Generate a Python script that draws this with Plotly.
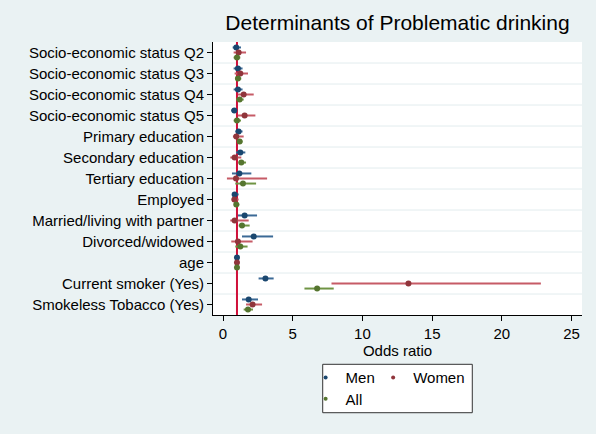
import plotly.graph_objects as go

categories = [
    "Socio-economic status Q2", "Socio-economic status Q3", "Socio-economic status Q4",
    "Socio-economic status Q5", "Primary education", "Secondary education",
    "Tertiary education", "Employed", "Married/living with partner",
    "Divorced/widowed", "age", "Current smoker (Yes)", "Smokeless Tobacco (Yes)",
]

men_or = [0.95, 1.07, 1.07, 0.81, 1.12, 1.24, 1.17, 0.83, 1.55, 2.20, 1.00, 3.04, 1.84]
men_lo = [0.69, 0.76, 0.76, 0.59, 0.88, 0.93, 0.64, 0.76, 1.07, 1.36, 0.98, 2.55, 1.36]
men_hi = [1.29, 1.40, 1.40, 1.00, 1.40, 1.60, 2.03, 1.12, 2.44, 3.59, 1.02, 3.63, 2.51]

women_or = [1.12, 1.24, 1.48, 1.55, 0.95, 0.83, 0.93, 0.81, 0.83, 1.07, 1.00, 13.3, 2.12]
women_lo = [0.76, 0.83, 1.07, 1.07, 0.71, 0.52, 0.28, 0.64, 0.52, 0.59, 0.98, 7.78, 1.65]
women_hi = [1.65, 1.79, 2.20, 2.32, 1.48, 1.31, 3.16, 1.12, 1.84, 2.12, 1.02, 22.8, 2.80]

all_or = [1.00, 1.07, 1.19, 1.00, 1.19, 1.31, 1.43, 0.95, 1.36, 1.24, 1.00, 6.75, 1.79]
all_lo = [0.76, 0.88, 0.95, 0.76, 1.00, 1.12, 0.88, 0.83, 1.12, 0.88, 0.99, 5.84, 1.48]
all_hi = [1.24, 1.31, 1.48, 1.29, 1.40, 1.65, 2.37, 1.17, 1.91, 1.76, 1.01, 7.94, 2.15]

x_ticks = [0, 5, 10, 15, 20, 25]
null_value = 1

FONT = "Liberation Sans, Arial, Helvetica, sans-serif"
BG = "#EAF2F3"
GRID = "#e2ecee"

series = [
    ("Men", men_or, men_lo, men_hi, -0.24, "#1a476f", "#3c6a96", "legend"),
    ("Women", women_or, women_lo, women_hi, 0.0, "#90353b", "#c65b66", "legend2"),
    ("All", all_or, all_lo, all_hi, 0.24, "#55752f", "#6f9444", "legend3"),
]

pos = list(range(1, len(categories) + 1))

fig = go.Figure()
for name, orv, lo, hi, off, mcol, ecol, leg in series:
    fig.add_trace(go.Scatter(
        x=orv, y=[p + off for p in pos], mode="markers", name=name,
        marker=dict(color=mcol, size=6, symbol="circle"),
        error_x=dict(type="data", symmetric=False,
                     array=[h - o for h, o in zip(hi, orv)],
                     arrayminus=[o - l for o, l in zip(orv, lo)],
                     color=ecol, thickness=2, width=0),
        showlegend=False,
    ))
for name, orv, lo, hi, off, mcol, ecol, leg in series:
    fig.add_trace(go.Scatter(
        x=[None], y=[None], mode="markers", name=name,
        marker=dict(color=mcol, size=4), legend=leg, showlegend=True,
    ))

# horizontal separators between categories
for p in pos[:-1]:
    fig.add_shape(type="line", xref="paper", yref="y", x0=0, x1=1, y0=p + 0.5, y1=p + 0.5,
                  line=dict(color=GRID, width=1), layer="below")

fig.add_shape(type="line", xref="x", yref="paper", x0=null_value, x1=null_value,
              y0=0, y1=1, line=dict(color="#d0103a", width=2), layer="below")

# legend frame
fig.add_shape(type="rect", xref="paper", yref="paper",
              x0=0.2973, x1=0.7027, y0=-0.3579, y1=-0.1806,
              line=dict(color="#333333", width=1), fillcolor="white", layer="below")

leg_common = dict(orientation="h", xanchor="left", yanchor="middle",
                  bgcolor="rgba(0,0,0,0)", borderwidth=0, font=dict(size=15))

fig.update_layout(
    width=596, height=434,
    margin=dict(l=213, r=14, t=42, b=119),
    paper_bgcolor=BG, plot_bgcolor="white",
    font=dict(family=FONT, size=15, color="black"),
    title=dict(text="Determinants of Problematic drinking", x=0.5, xref="paper",
               xanchor="center", y=1 - 23 / 434, yref="container", yanchor="middle",
               font=dict(size=21, family=FONT, color="black")),
    xaxis=dict(range=[-0.72, 25.75], tickvals=x_ticks, ticks="outside", ticklen=5,
               tickcolor="black", showline=True, linecolor="black", linewidth=1,
               showgrid=False, zeroline=False, mirror=False,
               title=dict(text="Odds ratio", standoff=1, font=dict(size=15))),
    yaxis=dict(range=[13.5, 0.5], tickvals=pos, ticktext=categories, ticks="outside",
               ticklen=5, tickcolor="black", showline=True, linecolor="black", linewidth=1,
               showgrid=False, zeroline=False),
    legend=dict(x=0.251, y=-0.230, **leg_common),
    legend2=dict(x=0.434, y=-0.230, **leg_common),
    legend3=dict(x=0.251, y=-0.308, **leg_common),
)

fig.write_html("out.html", config={"displayModeBar": False},
               post_script="document.body.style.margin='0';")
